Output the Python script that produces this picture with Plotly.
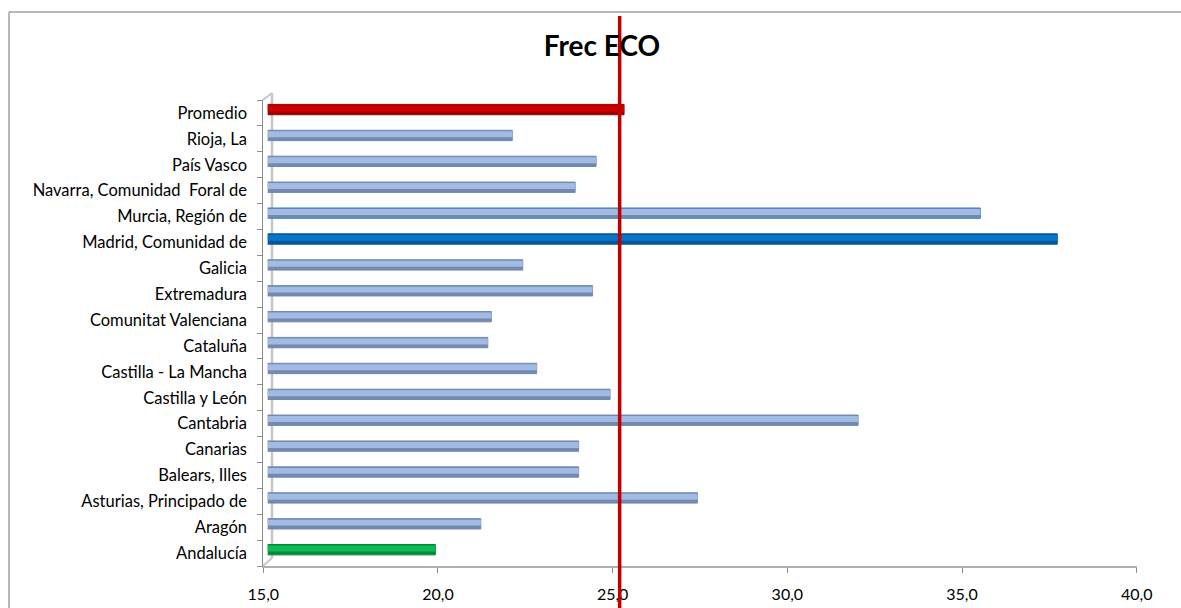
import plotly.graph_objects as go

# Frecuencia ECO por comunidad autónoma (de abajo arriba)
regiones = [
    "Andalucía", "Aragón", "Asturias, Principado de", "Balears, Illes",
    "Canarias", "Cantabria", "Castilla y León", "Castilla - La Mancha",
    "Cataluña", "Comunitat Valenciana", "Extremadura", "Galicia",
    "Madrid, Comunidad de", "Murcia, Región de", "Navarra, Comunidad  Foral de",
    "País Vasco", "Rioja, La", "Promedio",
]
frec_eco = [19.8, 21.1, 27.3, 23.9, 23.9, 31.9, 24.8, 22.7, 21.3, 21.4,
            24.3, 22.3, 37.6, 35.4, 23.8, 24.4, 22.0, 25.2]
promedio = frec_eco[regiones.index("Promedio")]
x_ticks = [15, 20, 25, 30, 35, 40]

W, H = 1181, 608

# colours: shaded base and lighter highlight per bar
base_default, light_default = "#7489ae", "#a2bbe5"
special = {
    "Promedio": ("#9a0000", "#d00000"),
    "Madrid, Comunidad de": ("#00589a", "#0a74c8"),
    "Andalucía": ("#00883c", "#10bb55"),
}
base_cols = [special.get(r, (base_default, light_default))[0] for r in regiones]
light_cols = [special.get(r, (base_default, light_default))[1] for r in regiones]
outline_cols = ["#3a86cc" if r.startswith("Murcia") else c for r, c in zip(regiones, base_cols)]

def px(x):
    return x / W

def py(y):
    return 1 - y / H

fig = go.Figure()
fig.add_trace(go.Bar(
    y=regiones, x=frec_eco, orientation="h", xaxis="x2", yaxis="y",
    width=0.40, offset=-0.07,
    marker=dict(color=base_cols, line=dict(color=outline_cols, width=1)),
    hoverinfo="x+y", showlegend=False,
))
fig.add_trace(go.Bar(
    y=regiones, x=frec_eco, orientation="h", xaxis="x2", yaxis="y",
    width=0.23, offset=0.06,
    marker=dict(color=light_cols, line=dict(width=0)),
    hoverinfo="skip", showlegend=False,
))

border = dict(color="#a0a0a0", width=1.5)
wall = dict(color="#c6c6c6", width=2.5)
shapes = [
    # chart border (top and left edges)
    dict(type="line", xref="paper", yref="paper", x0=px(9), x1=1.0, y0=py(12), y1=py(12),
         line=border, layer="below"),
    dict(type="line", xref="paper", yref="paper", x0=px(9), x1=px(9), y0=0.0, y1=py(12),
         line=border, layer="below"),
    # back wall edge and corners
    dict(type="line", xref="paper", yref="paper", x0=px(272), x1=px(272), y0=py(558), y1=py(93),
         line=wall, layer="below"),
    dict(type="line", xref="paper", yref="paper", x0=px(263), x1=px(272), y0=py(100), y1=py(93),
         line=dict(color="#c6c6c6", width=2), layer="below"),
    dict(type="line", xref="paper", yref="paper", x0=px(263), x1=px(272), y0=py(566), y1=py(558),
         line=dict(color="#c6c6c6", width=2), layer="below"),
    # average reference line
    dict(type="line", xref="x", yref="paper", x0=promedio, x1=promedio, y0=-0.02, y1=py(16),
         line=dict(color="#c00000", width=3.5), layer="above"),
]

fig.update_layout(
    width=W, height=H,
    margin=dict(l=0, r=0, t=0, b=0, autoexpand=False),
    paper_bgcolor="white", plot_bgcolor="rgba(0,0,0,0)",
    barmode="overlay",
    separators=",.",
    font=dict(family="Lato, 'Open Sans', sans-serif", size=16.5, color="#000000"),
    title=dict(text="<b>Frec ECO</b>", x=px(602), y=py(46), xanchor="center", yanchor="middle",
               font=dict(family="Lato, 'Open Sans', sans-serif", size=28, color="#000000")),
    xaxis=dict(
        domain=[px(263.3), px(1136.7)], range=[15, 40], tickvals=x_ticks, tickformat=".1f",
        showgrid=False, zeroline=False, showline=True, linecolor="#b0b0b0", linewidth=2,
        ticks="outside", ticklen=5, tickcolor="#8c8c8c", tickfont=dict(size=16),
        ticklabelstandoff=8, anchor="y", automargin=False, fixedrange=True,
    ),
    xaxis2=dict(
        domain=[px(267.7), px(1141.1)], range=[15, 40], visible=False, anchor="y",
        automargin=False, fixedrange=True,
    ),
    yaxis=dict(
        domain=[py(566), py(100)], type="category", categoryorder="array", categoryarray=regiones,
        range=[-0.5, len(regiones) - 0.5], showgrid=False, zeroline=False,
        showline=True, linecolor="#8c8c8c", linewidth=1,
        ticks="outside", tickson="boundaries", ticklen=5, tickcolor="#8c8c8c",
        ticklabelstandoff=12, anchor="x", automargin=False, fixedrange=True,
    ),
    shapes=shapes,
)

fig.write_html("out.html")
